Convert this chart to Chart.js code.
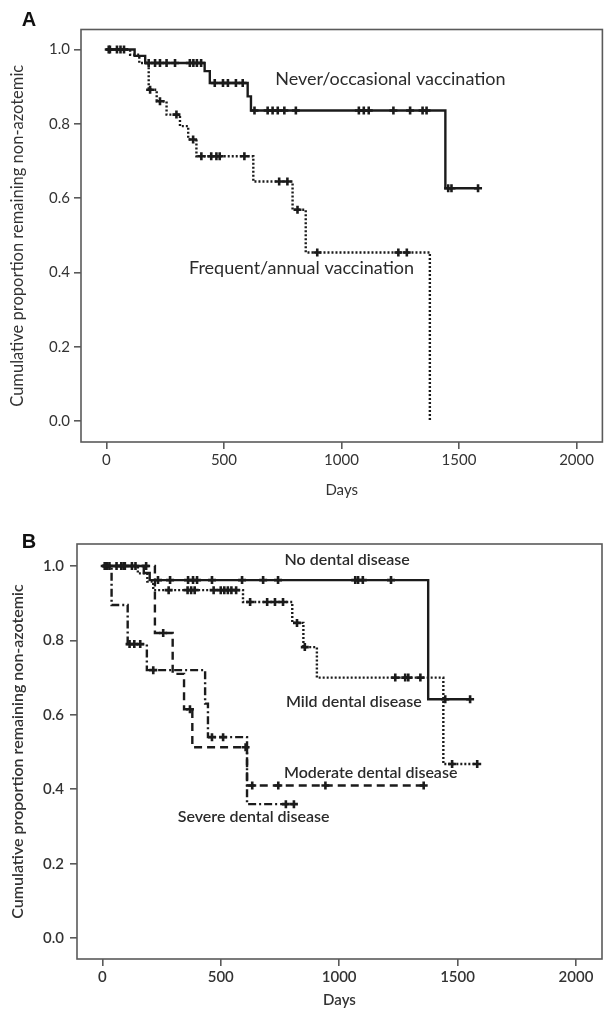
<!DOCTYPE html>
<html><head><meta charset="utf-8">
<script src="https://cdn.jsdelivr.net/npm/chart.js@4.4.1/dist/chart.umd.min.js"></script>
<style>
html,body{margin:0;padding:0;background:#fff;width:609px;height:1013px;overflow:hidden}
#wa{position:absolute;left:0;top:0;width:609px;height:515px}
#wb{position:absolute;left:0;top:515px;width:609px;height:498px}
</style></head><body>
<div id="wa"><canvas id="ca" width="609" height="515"></canvas></div>
<div id="wb"><canvas id="cb" width="609" height="498"></canvas></div>
<script>
// ---------- data ----------
const xTicks = [0, 500, 1000, 1500, 2000];
const yTicks = [0, 0.2, 0.4, 0.6, 0.8, 1.0];
const xAxisTitle = "Days";
const yAxisTitle = "Cumulative proportion remaining non-azotemic";

// Panel A: Never/occasional vaccination (solid)
const neverEventDays = [0, 120, 165, 418, 440, 601, 615, 1442];
const neverSurv      = [1.0, 0.983, 0.964, 0.942, 0.910, 0.874, 0.836, 0.627];
const neverCensorDays = [10, 60, 180, 207, 228, 256, 292, 355, 370, 385, 403, 461, 496, 517, 551, 580, 630, 686, 707, 729, 757, 806, 1074, 1095, 1116, 1221, 1292, 1345, 1362, 1454, 1468, 1581];

// Panel A: Frequent/annual vaccination (dotted)
const freqEventDays = [0, 101, 140, 180, 214, 256, 313, 348, 383, 625, 792, 848, 1376];
const freqSurv      = [1.0, 0.986, 0.964, 0.892, 0.861, 0.825, 0.794, 0.758, 0.713, 0.645, 0.569, 0.454, 0.0];
const freqCensorDays = [15, 45, 75, 186, 228, 298, 369, 404, 446, 468, 482, 587, 735, 770, 813, 897, 1242, 1278];

// Panel B: No dental disease (solid)
const noneEventDays = [0, 175, 200, 1376];
const noneSurv      = [1.0, 0.981, 0.962, 0.642];
const noneCensorDays = [10, 60, 95, 235, 286, 362, 383, 400, 463, 590, 679, 742, 1068, 1080, 1100, 1219, 1448, 1553];

// Panel B: Mild dental disease (dotted)
const mildEventDays = [0, 150, 190, 215, 594, 802, 849, 906, 1440];
const mildSurv      = [1.0, 0.980, 0.958, 0.935, 0.903, 0.847, 0.782, 0.700, 0.468];
const mildCensorDays = [30, 80, 125, 280, 360, 375, 390, 470, 500, 515, 530, 545, 565, 624, 696, 729, 763, 822, 855, 1237, 1279, 1292, 1343, 1477, 1583];

// Panel B: Moderate dental disease (dashed)
const modEventDays = [0, 222, 297, 345, 380, 611, 1357];
const modSurv      = [1.0, 0.820, 0.710, 0.615, 0.513, 0.410, 0.410];
const modCensorDays = [90, 140, 185, 257, 370, 605, 633, 743, 942, 1357];

// Panel B: Severe dental disease (dash-dot)
const sevEventDays = [0, 39, 107, 188, 434, 446, 611];
const sevSurv      = [1.0, 0.895, 0.790, 0.720, 0.630, 0.540, 0.360];
const sevCensorDays = [20, 115, 135, 160, 215, 463, 510, 775, 809];

// text labels (anchor in data units)
const labelsA = [
  {text: "Never/occasional vaccination", day: 1208, value: 0.919},
  {text: "Frequent/annual vaccination", day: 830, value: 0.413}
];
const labelsB = [
  {text: "No dental disease", day: 1034, value: 1.016},
  {text: "Mild dental disease", day: 1062, value: 0.634},
  {text: "Moderate dental disease", day: 1133, value: 0.443},
  {text: "Severe dental disease", day: 639, value: 0.326}
];

// ---------- helpers ----------
function stepValue(evDays, surv, d) {
  let v = surv[0];
  for (let i = 0; i < evDays.length; i++) if (evDays[i] <= d) v = surv[i];
  return v;
}
function curvePoints(evDays, surv, cDays) {
  const pts = evDays.map((d, i) => ({x: d, y: surv[i]}));
  cDays.forEach(d => { if (d > evDays[evDays.length - 1]) pts.push({x: d, y: stepValue(evDays, surv, d)}); });
  pts.sort((a, b) => a.x - b.x);
  return pts;
}
function censorPoints(evDays, surv, cDays) {
  return cDays.map(d => ({x: d, y: stepValue(evDays, surv, d)}));
}
const INK = '#1b1b1b';
function curveSets(evDays, surv, cDays, dash, extra) {
  return [
    Object.assign({
      type: 'line', data: curvePoints(evDays, surv, cDays), stepped: 'before',
      borderColor: INK, borderWidth: 2.4, borderDash: dash, pointRadius: 0, fill: false
    }, extra || {}),
    {
      type: 'scatter', data: censorPoints(evDays, surv, cDays), showLine: false,
      pointStyle: 'cross', pointRadius: 4, borderColor: INK, borderWidth: 2.6, backgroundColor: INK
    }
  ];
}

const framePlugin = {
  id: 'frame',
  beforeDatasetsDraw(chart) {
    const {ctx, chartArea: a} = chart;
    ctx.save();
    ctx.strokeStyle = '#5a5a5a';
    ctx.lineWidth = 1.6;
    ctx.strokeRect(a.left, a.top, a.right - a.left, a.bottom - a.top);
    ctx.restore();
  }
};
const textPlugin = {
  id: 'texts',
  afterDatasetsDraw(chart, args, o) {
    const {ctx, scales: {x, y}} = chart;
    ctx.save();
    ctx.fillStyle = '#2b2b2b';
    ctx.textAlign = 'center';
    ctx.textBaseline = 'middle';
    ctx.font = o.font;
    o.items.forEach(it => ctx.fillText(it.text, x.getPixelForValue(it.day), y.getPixelForValue(it.value)));
    ctx.font = 'bold 20px "Liberation Sans", Arial, sans-serif';
    ctx.fillStyle = '#111';
    ctx.fillText(o.letter, o.lx, o.ly);
    ctx.restore();
  }
};

function makeChart(id, datasets, cfg) {
  const canvas = document.getElementById(id);
  const H = canvas.height, W = canvas.width;
  return new Chart(canvas, {
    type: 'scatter',
    data: {datasets},
    plugins: [framePlugin, textPlugin],
    options: {
      responsive: false, animation: false, devicePixelRatio: 1,
      layout: {padding: {left: 0, top: cfg.top, right: W - cfg.right, bottom: 0}},
      plugins: {
        legend: {display: false}, tooltip: {enabled: false},
        texts: {items: cfg.labels, font: cfg.labelFont, letter: cfg.letter, lx: cfg.lx, ly: cfg.ly}
      },
      scales: {
        x: {
          type: 'linear', min: cfg.xmin, max: cfg.xmax,
          afterFit: s => { s.height = H - cfg.bottom; },
          afterBuildTicks: s => { s.ticks = xTicks.map(v => ({value: v})); },
          border: {display: false},
          grid: {display: true, drawOnChartArea: false, drawTicks: true, tickLength: 7, color: '#5a5a5a', lineWidth: 1.6},
          ticks: {padding: 2, color: '#333', font: {family: 'Lato', size: 15, weight: cfg.tickWeight}, maxRotation: 0, callback: v => String(v)},
          title: {display: true, text: xAxisTitle, color: '#333', font: {family: 'Lato', size: 15, weight: cfg.tickWeight}, padding: {top: 0, bottom: cfg.daysPad}}
        },
        y: {
          type: 'linear', min: cfg.ymin, max: cfg.ymax,
          afterFit: s => { s.width = cfg.left; },
          afterBuildTicks: s => { s.ticks = yTicks.map(v => ({value: v})); },
          border: {display: false},
          grid: {display: true, drawOnChartArea: false, drawTicks: true, tickLength: 7, color: '#5a5a5a', lineWidth: 1.6},
          ticks: {padding: cfg.ypad, color: '#333', font: {family: 'Lato', size: 15, weight: cfg.tickWeight}, callback: v => Number(v).toFixed(1)},
          title: {display: true, text: yAxisTitle, color: '#333', font: {family: 'Lato', size: cfg.ytitleSize, weight: cfg.tickWeight}, padding: {top: 8, bottom: 0}}
        }
      }
    }
  });
}

makeChart('ca', [
  ...curveSets(neverEventDays, neverSurv, neverCensorDays, []),
  ...curveSets(freqEventDays, freqSurv, freqCensorDays, [2, 2])
], {left: 81, right: 606.5, top: 29.5, bottom: 442, xmin: -108, xmax: 2110, ymin: -0.056, ymax: 1.054,
    labels: labelsA, labelFont: '18px Lato', letter: 'A', lx: 29, ly: 20, ypad: 4, daysPad: 16,
    tickWeight: 'normal', ytitleSize: 16.5});

makeChart('cb', [
  ...curveSets(noneEventDays, noneSurv, noneCensorDays, [], {
    segment: {
      borderColor: c => (c.p0.parsed.x >= 742 && c.p0.parsed.x < 1376 && c.p1.parsed.y === c.p0.parsed.y) ? '#8a8a8a' : INK,
      borderWidth: c => (c.p0.parsed.x >= 742 && c.p0.parsed.x < 1376 && c.p1.parsed.y === c.p0.parsed.y) ? 1.6 : 2.4
    }
  }),
  ...curveSets(mildEventDays, mildSurv, mildCensorDays, [2, 2]),
  ...curveSets(modEventDays, modSurv, modCensorDays, [8, 5]),
  ...curveSets(sevEventDays, sevSurv, sevCensorDays, [8, 3, 2, 3])
], {left: 77, right: 602, top: 29, bottom: 444, xmin: -107, xmax: 2110, ymin: -0.056, ymax: 1.059,
    labels: labelsB, labelFont: '600 16px Lato', letter: 'B', lx: 29, ly: 27, ypad: 6, daysPad: 4,
    tickWeight: '600', ytitleSize: 16});
</script>
</body></html>
